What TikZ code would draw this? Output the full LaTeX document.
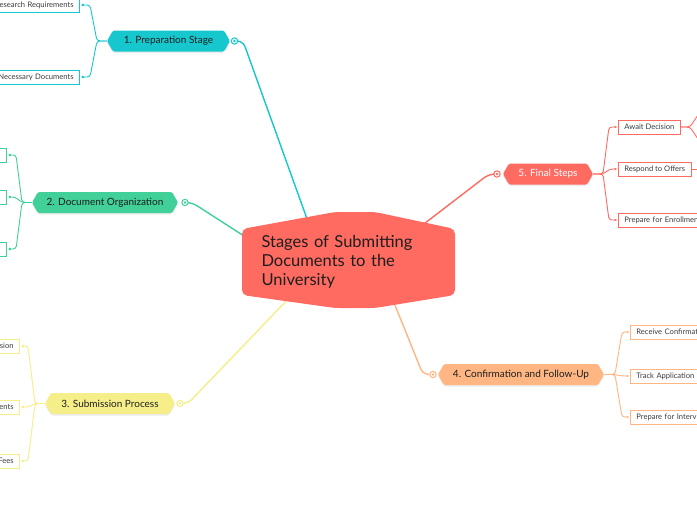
\documentclass[tikz,border=0pt]{standalone}
\usepackage{fontspec}
\setmainfont{Lato}
\usetikzlibrary{calc,arrows.meta}
\pgfdeclarelayer{back}
\pgfdeclarelayer{bg}
\pgfsetlayers{back,bg,main}
\definecolor{cy}{RGB}{22,200,206}
\definecolor{gr}{RGB}{64,208,152}
\definecolor{ye}{RGB}{246,238,136}
\definecolor{or}{RGB}{255,182,130}
\definecolor{rd}{RGB}{255,106,97}
\definecolor{txt}{RGB}{30,30,30}
\definecolor{ctxt}{RGB}{60,60,60}
\newcommand\mybranch[7]{%
  \fill[black,opacity=0.08,rounded corners=1.5pt] (#2-#4,#3+1.5) -- (#2-#4+6,#3-9) -- (#2+#4-6,#3-9) -- (#2+#4,#3+1.5) -- (#2+#4-6,#3+12) -- (#2-#4+6,#3+12) -- cycle;
  \fill[#5,rounded corners=1.5pt] (#2-#4,#3) -- (#2-#4+6,#3-10.5) -- (#2+#4-6,#3-10.5) -- (#2+#4,#3) -- (#2+#4-6,#3+10.5) -- (#2-#4+6,#3+10.5) -- cycle;
  \node[branchtext, text=#6, minimum width=2*#4, minimum height=21] (#1) at (#2,#3) {#7};
}
\begin{document}
\begin{tikzpicture}[x=1pt,y=-1pt]
\tikzset{
 main/.style={line width=1.4pt, rounded corners=6pt},
 sub/.style={line width=0.9pt, rounded corners=3pt},
 lend/.style={-{Circle[length=2.6pt]}, shorten >=1.6pt},
 rend/.style={-{Latex[length=3pt,width=2.6pt]}, shorten >=0.5pt},
 childbox/.style={draw, fill=white, line width=0.8pt, minimum height=14pt, inner xsep=6pt, inner ysep=0pt, font=\fontsize{7.6}{8.5}\selectfont, text=ctxt},
 childL/.style={childbox, anchor=east, text width=#1, align=right},
 childR/.style={childbox, anchor=west, text width=#1, align=left},
 branchtext/.style={inner sep=0pt, font=\fontsize{10}{12}\selectfont},
 knob/.style={circle, draw, fill=white, line width=1pt, minimum size=6.4pt, inner sep=0pt},
}
\useasboundingbox (0,0) rectangle (697,520);
\begin{pgfonlayer}{back}
\fill[white] (0,0) rectangle (697,520);
\end{pgfonlayer}

% central topic
\fill[rd, rounded corners=5pt] (242,229) -- (335,212) -- (375,212) -- (455,229) -- (455,295) -- (375,308) -- (335,308) -- (242,295) -- cycle;
\node[inner xsep=19.5pt, inner ysep=0pt, text width=174pt, align=left, minimum height=66pt, font=\fontsize{16.5}{18.7}\selectfont, text=txt] (c) at (348.5,262) {Stages of Submitting\\Documents to the\\University};

% main branches
\mybranch{n1}{168.5}{41}{61.5}{cy}{txt}{1. Preparation Stage}
\mybranch{n2}{105}{202.5}{73}{gr}{txt}{2. Document Organization}
\mybranch{n3}{110}{403.5}{65}{ye}{txt}{3. Submission Process}
\mybranch{n4}{521}{374.5}{83}{or}{txt}{4. Confirmation and Follow-Up}
\mybranch{n5}{548}{174}{45}{rd}{white}{5. Final Steps}

% knobs
\node[knob, draw=cy] (k1) at (234.5,41) {};
\node[knob, draw=gr] (k2) at (185,202.5) {};
\node[knob, draw=ye] (k3) at (180,403.5) {};
\node[knob, draw=or] (k4) at (433,374.5) {};
\node[knob, draw=rd] (k5) at (497,174) {};
\fill[cy] (k1) circle (1.3pt);
\fill[gr] (k2) circle (1.3pt);
\fill[ye] (k3) circle (1.3pt);
\fill[or] (k4) circle (1.3pt);
\fill[rd] (k5) circle (1.3pt);

% children
\node[childL=90pt, draw=cy] (a1) at (80,5) {Research Requirements};
\node[childL=90pt, draw=cy] (a2) at (80,77) {Necessary Documents};
\node[childL=40pt, draw=gr] (b1) at (7,155) {};
\node[childL=40pt, draw=gr] (b2) at (7,197) {};
\node[childL=40pt, draw=gr] (b3) at (7,249) {};
\node[childL=40pt, draw=ye] (y1) at (20,346) {sion};
\node[childL=40pt, draw=ye] (y2) at (20,407) {ents};
\node[childL=40pt, draw=ye] (y3) at (20,461) {Fees};
\node[childR=90pt, draw=or] (o1) at (630,332) {Receive Confirmation};
\node[childR=90pt, draw=or] (o2) at (630,376) {Track Application};
\node[childR=90pt, draw=or] (o3) at (630,417) {Prepare for Interview};
\node[childbox, draw=rd, anchor=west] (r1) at (618,127) {Await Decision};
\node[childbox, draw=rd, anchor=west] (r2) at (618,169) {Respond to Offers};
\node[childR=90pt, draw=rd] (r3) at (618,220) {Prepare for Enrollment};
\coordinate (ad1) at (704,106);
\coordinate (ad2) at (704,148);
\coordinate (ro) at (704,169);

\begin{pgfonlayer}{bg}
\draw[main, cy] (k1.east) -- (243,41) -- ($(c.north west)+(67,-5)$);
\draw[main, gr] (k2.east) -- (192,202.5) -- ($(c.north west)+(5,9)$);
\draw[main, ye] (k3.east) -- (188,403.5) -- ($(c.south west)+(48,2)$);
\draw[main, or] (k4.west) -- (423,374.5) -- ($(c.south)+(44.5,5)$);
\draw[main, rd] (k5.west) -- (489,174) -- ($(c.north east)+(-35,-2)$);

\draw[sub, cy, lend] (n1.west) -- (97,41) -- (90,5) -- (a1.east);
\draw[sub, cy, lend] (n1.west) -- (97,41) -- (90,77) -- (a2.east);
\draw[sub, gr, lend] (n2.west) -- (22,202.5) -- (16,155) -- (b1.east);
\draw[sub, gr, lend] (n2.west) -- (22,202.5) -- (15,197) -- (b2.east);
\draw[sub, gr, lend] (n2.west) -- (22,202.5) -- (16,249) -- (b3.east);
\draw[sub, ye, lend] (n3.west) -- (35,403.5) -- (28,346) -- (y1.east);
\draw[sub, ye, lend] (n3.west) -- (35,403.5) -- (28,407) -- (y2.east);
\draw[sub, ye, lend] (n3.west) -- (35,403.5) -- (28,461) -- (y3.east);
\draw[sub, or, rend] (n4.east) -- (615,374.5) -- (622,332) -- (o1.west);
\draw[sub, or, rend] (n4.east) -- (615,374.5) -- (622,376) -- (o2.west);
\draw[sub, or, rend] (n4.east) -- (615,374.5) -- (622,417) -- (o3.west);
\draw[sub, rd, rend] (n5.east) -- (603,174) -- (609,127) -- (r1.west);
\draw[sub, rd, rend] (n5.east) -- (603,174) -- (610,169) -- (r2.west);
\draw[sub, rd, rend] (n5.east) -- (603,174) -- (609,220) -- (r3.west);
\draw[sub, rd] (r1.east) -- (690,127) -- (ad1);
\draw[sub, rd] (r1.east) -- (690,127) -- (ad2);
\draw[sub, rd] (r2.east) -- (ro);
\end{pgfonlayer}
\end{tikzpicture}
\end{document}
